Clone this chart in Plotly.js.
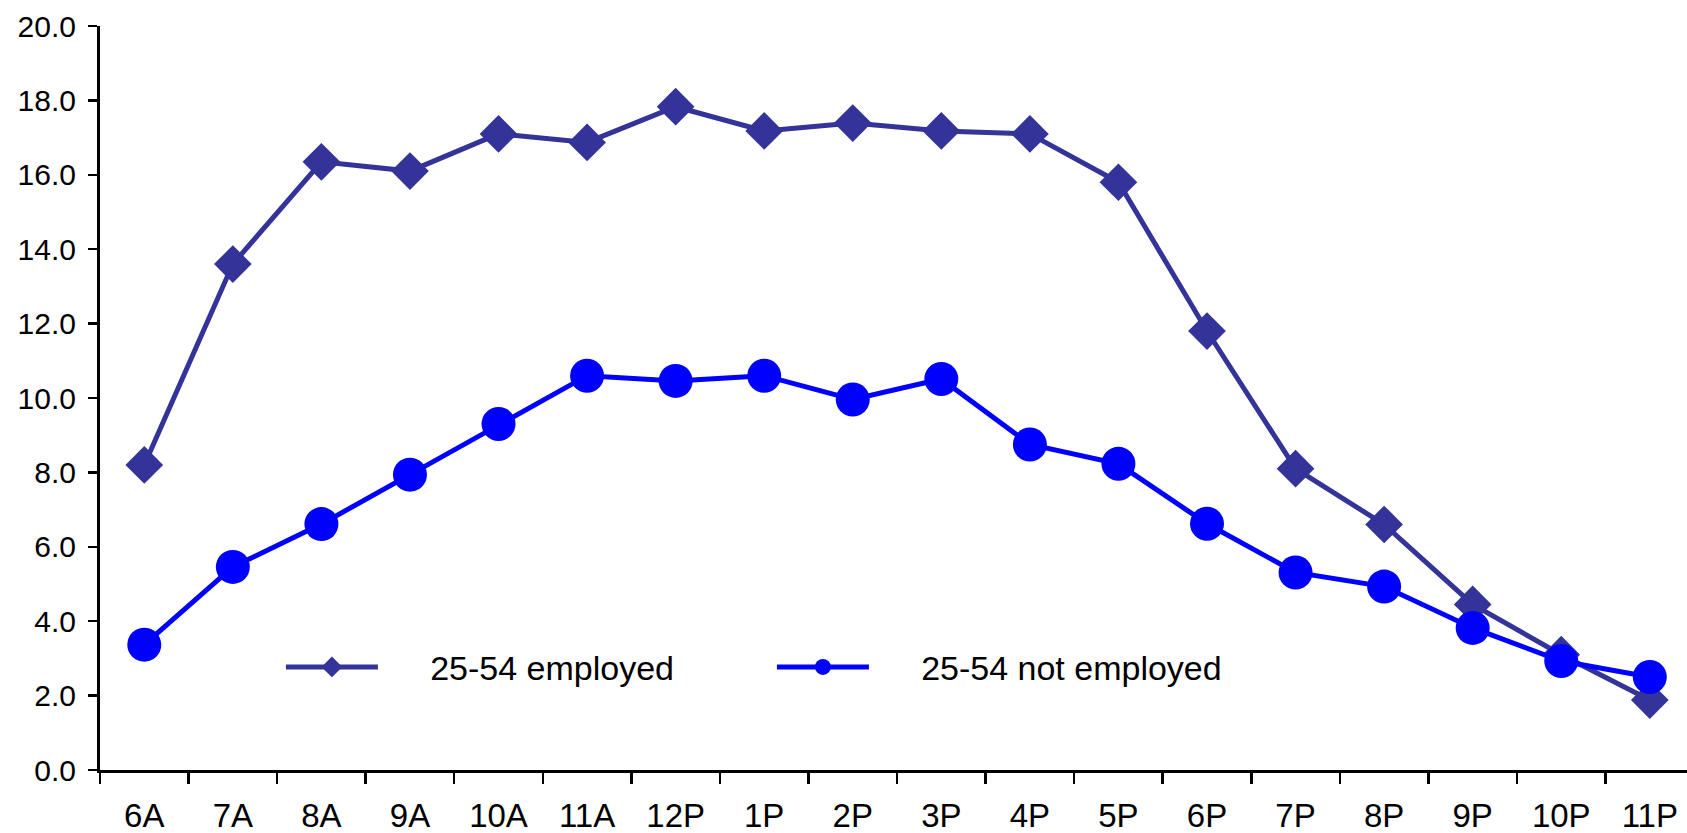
<!DOCTYPE html>
<html>
<head>
<meta charset="utf-8">
<script src="https://cdn.plot.ly/plotly-3.0.1.min.js"></script>
<style>
  html, body { margin: 0; padding: 0; background: #ffffff; }
  #chart { width: 1687px; height: 833px; }
</style>
</head>
<body>
<div id="chart"></div>
<script>
// Hour-of-day categories
const hours = ["6A", "7A", "8A", "9A", "10A", "11A", "12P", "1P", "2P", "3P",
               "4P", "5P", "6P", "7P", "8P", "9P", "10P", "11P"];

// Series values
const employed = [8.2, 13.6, 16.35, 16.1, 17.1, 16.87, 17.83, 17.18, 17.39, 17.18,
                  17.1, 15.8, 11.8, 8.1, 6.6, 4.45, 3.1, 1.88];
const notEmployed = [3.37, 5.46, 6.61, 7.94, 9.3, 10.6, 10.46, 10.6, 9.96, 10.51,
                     8.75, 8.23, 6.62, 5.31, 4.93, 3.82, 2.93, 2.5];

const seriesNames = ["25-54 employed", "25-54 not employed"];
const yTicks = [0, 2, 4, 6, 8, 10, 12, 14, 16, 18, 20];

const FONT = "Liberation Sans, Arial, sans-serif";
const GAP = "\u00a0\u00a0\u00a0\u00a0\u00a0"; // space between legend symbol and label

const traces = [
  {
    x: hours, y: employed, name: GAP + seriesNames[0], type: "scatter", mode: "lines+markers",
    line: { color: "#333399", width: 5 },
    marker: { symbol: "diamond", size: 29, color: "#333399", line: { width: 0 } }
  },
  {
    x: hours, y: notEmployed, name: GAP + seriesNames[1], type: "scatter", mode: "lines+markers",
    line: { color: "#0000ff", width: 5 },
    marker: { symbol: "circle", size: 34, color: "#0000ff", line: { width: 0 } }
  }
];

const layout = {
  width: 1687, height: 833,
  margin: { l: 100, r: 0, t: 26, b: 63, pad: 0 },
  paper_bgcolor: "#ffffff", plot_bgcolor: "#ffffff",
  font: { family: FONT, color: "#000000" },
  showlegend: true,
  legend: {
    orientation: "h",
    x: 0.114, xanchor: "left",
    y: 0.138, yanchor: "middle",
    font: { family: FONT, size: 34, color: "#000000" },
    itemwidth: 92,
    entrywidth: 384,
    entrywidthmode: "pixels",
    bgcolor: "rgba(0,0,0,0)",
    borderwidth: 0
  },
  xaxis: {
    type: "category",
    range: [-0.5, 17.42],
    showgrid: false, zeroline: false,
    showline: true, linecolor: "#000000", linewidth: 3,
    ticks: "outside", tickson: "boundaries", ticklen: 11, tickwidth: 2.5, tickcolor: "#000000",
    tickfont: { family: FONT, size: 33, color: "#000000" },
    ticklabelstandoff: 14,
    fixedrange: true
  },
  yaxis: {
    range: [0, 20],
    tickvals: yTicks,
    tickformat: ".1f",
    showgrid: false, zeroline: false,
    showline: true, linecolor: "#000000", linewidth: 3,
    ticks: "outside", ticklen: 9, tickwidth: 2.5, tickcolor: "#000000",
    tickfont: { family: FONT, size: 30, color: "#000000" },
    ticklabelstandoff: 6,
    fixedrange: true
  }
};

Plotly.newPlot("chart", traces, layout, { displayModeBar: false, staticPlot: true });
</script>
</body>
</html>
